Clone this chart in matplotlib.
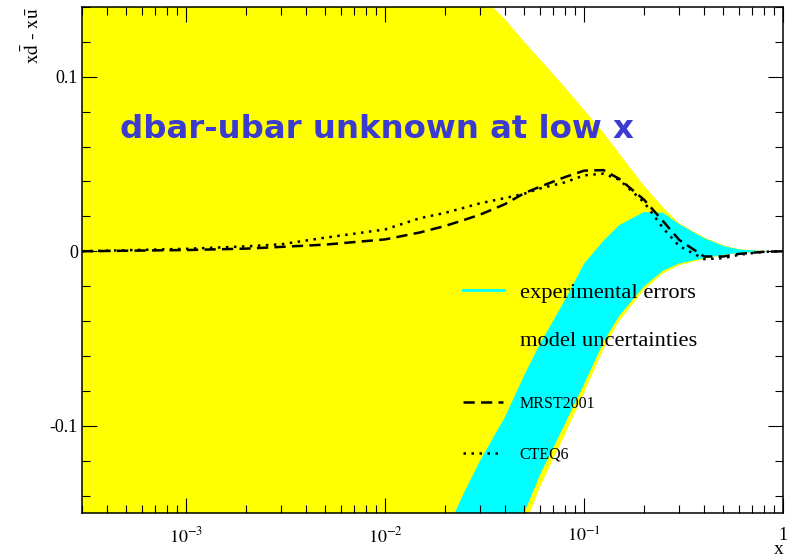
import matplotlib
matplotlib.use("Agg")
import matplotlib.pyplot as plt
from matplotlib.ticker import LogLocator, MultipleLocator, NullFormatter, FixedLocator, FixedFormatter

plt.rcParams['font.family'] = ['Liberation Serif', 'DejaVu Serif']
plt.rcParams['mathtext.fontset'] = 'stix'

# x grid (log spaced values)
x = [3e-4, 5e-4, 1e-3, 2e-3, 3e-3, 5e-3, 0.01, 0.015, 0.02, 0.025, 0.03,
     0.04, 0.05, 0.06, 0.08, 0.1, 0.125, 0.15, 0.2, 0.25, 0.3, 0.4, 0.5,
     0.6, 0.8, 1.0]

# MRST2001 and CTEQ6 central curves
mrst = [0.0, 0.0003, 0.0007, 0.0015, 0.0025, 0.0038, 0.0068, 0.0108, 0.0145,
        0.018, 0.021, 0.027, 0.0333, 0.037, 0.0425, 0.0462, 0.0465, 0.0415,
        0.0295, 0.017, 0.0065, -0.003, -0.003, -0.0015, -0.0003, 0.0]
cteq = [0.0, 0.0006, 0.0014, 0.0028, 0.004, 0.0078, 0.0125, 0.019, 0.022,
        0.025, 0.0275, 0.0305, 0.033, 0.036, 0.0395, 0.0435, 0.0445, 0.041,
        0.028, 0.013, 0.003, -0.0045, -0.004, -0.002, -0.0003, 0.0]

# model uncertainty band (yellow)
model_hi = [0.40, 0.38, 0.34, 0.30, 0.28, 0.25, 0.21, 0.185, 0.17, 0.157,
            0.147, 0.133, 0.120, 0.110, 0.094, 0.081, 0.068, 0.056, 0.0375,
            0.025, 0.016, 0.008, 0.0034, 0.0012, 0.0002, 0.0]
model_lo = [-0.5, -0.5, -0.5, -0.5, -0.5, -0.5, -0.5, -0.5, -0.5, -0.5,
            -0.5, -0.5, -0.158, -0.135, -0.105, -0.081, -0.056, -0.040,
            -0.022, -0.0125, -0.008, -0.0045, -0.0022, -0.0011, -0.0002, 0.0]

# experimental error band (cyan)
exp_hi = [-0.4, -0.4, -0.4, -0.4, -0.4, -0.3, -0.22, -0.19, -0.162, -0.138,
          -0.12, -0.095, -0.071, -0.053, -0.028, -0.007, 0.006, 0.015,
          0.0225, 0.022, 0.0155, 0.0075, 0.003, 0.001, 0.0001, 0.0]
exp_lo = [-0.45, -0.45, -0.45, -0.45, -0.45, -0.45, -0.35, -0.32, -0.30,
          -0.28, -0.25, -0.18, -0.150, -0.128, -0.099, -0.076, -0.052,
          -0.037, -0.020, -0.011, -0.007, -0.004, -0.002, -0.001, -0.0002, 0.0]

fig = plt.figure(figsize=(7.96, 5.6), dpi=100)
ax = fig.add_axes([0.103, 0.084, 0.881, 0.9035])

ax.fill_between(x, model_lo, model_hi, color='#ffff00', lw=0, label='model uncertainties')
ax.fill_between(x, exp_lo, exp_hi, color='#00ffff', lw=0)
ax.plot([], [], color='#00ffff', lw=2, label='experimental errors')
l1, = ax.plot(x, mrst, color='black', lw=1.8, dashes=(4.5, 2.5), label='MRST2001')
l2, = ax.plot(x, cteq, color='black', lw=1.8, dashes=(1.0, 2.2), label='CTEQ6')

ax.set_xscale('log')
ax.set_xlim(3e-4, 1)
ax.set_ylim(-0.15, 0.14)

ax.xaxis.set_major_locator(FixedLocator([1e-3, 1e-2, 1e-1, 1]))
ax.xaxis.set_major_formatter(FixedFormatter([r'$10^{-3}$', r'$10^{-2}$', r'$10^{-1}$', '1']))
ax.xaxis.set_minor_locator(LogLocator(base=10, subs=range(2, 10)))
ax.xaxis.set_minor_formatter(NullFormatter())
ax.yaxis.set_major_locator(MultipleLocator(0.1))
ax.yaxis.set_minor_locator(MultipleLocator(0.02))
ax.set_yticks([-0.1, 0, 0.1])
ax.set_yticklabels(['-0.1', '0', '0.1'])

ax.tick_params(which='both', direction='in', top=True, right=True, width=0.8,
               labelsize=13)
ax.tick_params(which='major', length=11)
ax.tick_params(which='minor', length=5.5)
ax.tick_params(axis='x', pad=10)
ax.tick_params(axis='y', pad=3)
for s in ax.spines.values():
    s.set_linewidth(1.1)

ax.set_xlabel('x', loc='right', fontsize=14, labelpad=-4)
ax.set_ylabel(r'$\mathrm{x\bar{d}}$ - $\mathrm{x\bar{u}}$', loc='top', fontsize=14)
ax.yaxis.set_label_coords(-0.056, 1.0)

ax.text(0.054, 0.757, 'dbar-ubar unknown at low x', transform=ax.transAxes,
        fontsize=23.3, fontweight='bold', color='#3b3bd0', family='DejaVu Sans',
        va='center', ha='left')

h, lab = ax.get_legend_handles_labels()
d = dict(zip(lab, h))
leg1 = ax.legend([d['experimental errors'], d['model uncertainties']],
                 ['experimental errors', 'model uncertainties'],
                 loc='upper left', bbox_to_anchor=(0.544, 0.456), frameon=False,
                 fontsize=16.2, handlelength=1.8, handletextpad=0.7,
                 labelspacing=1.22, borderpad=0, borderaxespad=0)
ax.add_artist(leg1)
ax.legend([l1, l2], ['MRST2001', 'CTEQ6'], loc='upper left',
          bbox_to_anchor=(0.544, 0.232), frameon=False, fontsize=11.5,
          handlelength=2.5, handletextpad=1.0, labelspacing=2.2,
          borderpad=0, borderaxespad=0)

fig.savefig('out.png', dpi=100)
